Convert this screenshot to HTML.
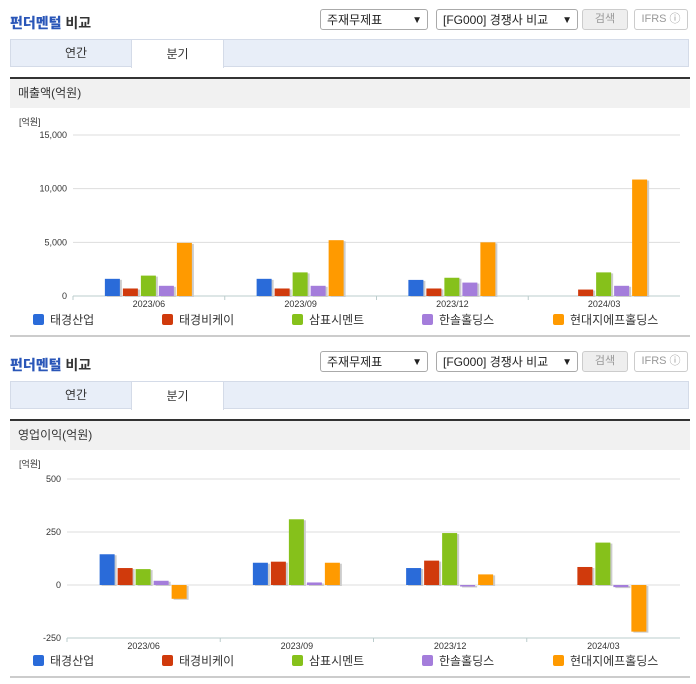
<!DOCTYPE html>
<html><head><meta charset="utf-8"><style>
body{margin:0;width:696px;height:684px;background:#fff;font-family:"Liberation Sans","Noto Sans CJK KR",sans-serif;position:relative;overflow:hidden}
.abs{position:absolute}
.title{font-size:14px;font-weight:bold;color:#333;left:10px}
.title b{color:#2a56b8}
.sel{border:1px solid #aaa;border-radius:3px;height:21px;font-size:12px;color:#222;line-height:21px;padding-left:6px;box-sizing:border-box;background:#fff}
.sel span{position:absolute;right:5px;font-size:10px}
.btn{border:1px solid #ccc;border-radius:3px;height:21px;font-size:11px;color:#999;line-height:19px;text-align:center;box-sizing:border-box}
.tabs{left:10px;width:679px;height:28px;background:#e8eef8;border:1px solid #d4dbe8;box-sizing:border-box}
.tab{top:-1px;height:28px;line-height:28px;font-size:12px;text-align:center;color:#333}
.dark{left:10px;width:680px;height:2px;background:#333}
.sub{left:10px;width:680px;height:29px;background:#f1f1f1;font-size:12px;color:#333;line-height:29px;padding-left:8px;box-sizing:border-box}
.sep{left:10px;width:680px;height:2px;background:#ccc}
</style></head><body>
<div class="abs title" style="top:13px"><b>펀더멘털</b> 비교</div>
<div class="abs sel" style="left:320px;top:9px;width:108px">주재무제표<span>▼</span></div>
<div class="abs sel" style="left:436px;top:9px;width:142px">[FG000] 경쟁사 비교<span>▼</span></div>
<div class="abs btn" style="left:582px;top:9px;width:46px;background:#eee">검색</div>
<div class="abs btn" style="left:634px;top:9px;width:54px">IFRS ⓘ</div>
<div class="abs tabs" style="top:39px">
<div class="abs tab" style="left:20px;width:90px">연간</div>
<div class="abs tab" style="left:120px;width:91px;background:#fff;border:1px solid #d4dbe8;border-bottom:none;height:28px">분기</div>
</div>
<div class="abs dark" style="top:77px"></div>
<div class="abs sub" style="top:79px">매출액(억원)</div>

<div class="abs title" style="top:355px"><b>펀더멘털</b> 비교</div>
<div class="abs sel" style="left:320px;top:351px;width:108px">주재무제표<span>▼</span></div>
<div class="abs sel" style="left:436px;top:351px;width:142px">[FG000] 경쟁사 비교<span>▼</span></div>
<div class="abs btn" style="left:582px;top:351px;width:46px;background:#eee">검색</div>
<div class="abs btn" style="left:634px;top:351px;width:54px">IFRS ⓘ</div>
<div class="abs tabs" style="top:381px">
<div class="abs tab" style="left:20px;width:90px">연간</div>
<div class="abs tab" style="left:120px;width:91px;background:#fff;border:1px solid #d4dbe8;border-bottom:none;height:28px">분기</div>
</div>
<div class="abs dark" style="top:419px"></div>
<div class="abs sub" style="top:421px">영업이익(억원)</div>
<div class="abs sep" style="top:335px"></div>
<div class="abs sep" style="top:676px"></div>

<svg class="abs" style="left:0;top:0" width="696" height="684" id="svg"></svg>
<script>
const categories=["2023/06","2023/09","2023/12","2024/03"];
const seriesNames=["태경산업","태경비케이","삼표시멘트","한솔홀딩스","현대지에프홀딩스"];
const colors=["#2a6bd9","#d03a0c","#86c11b","#a47ddb","#ff9a00"];
const salesTicks=[0,5000,10000,15000];
const salesTaegyeong=[1600,1600,1500,null];
const salesTaegyeongBK=[700,700,700,600];
const salesSampyo=[1900,2200,1700,2200];
const salesHansol=[950,950,1250,950];
const salesHyundai=[4950,5200,5000,10850];
const opTicks=[-250,0,250,500];
const opTaegyeong=[145,105,80,null];
const opTaegyeongBK=[80,110,115,85];
const opSampyo=[75,310,245,200];
const opHansol=[20,12,-5,-10];
const opHyundai=[-65,105,50,-220];
const NS="http://www.w3.org/2000/svg";
const svg=document.getElementById('svg');
function mk(t,a,txt){const e=document.createElementNS(NS,t);for(const k in a)e.setAttribute(k,a[k]);if(txt!=null)e.textContent=txt;svg.appendChild(e);return e;}
function chart(cfg){
 const {x0,x1,yTop,yBot,min,max,ticks,series,key,legendY,unitY}=cfg;
 const y=v=>yBot-(v-min)/(max-min)*(yBot-yTop);
 const cw=(x1-x0)/categories.length;
 const t0=mk('text',{x:19,y:unitY,'font-size':9,fill:'#333'},'[억원]');
 
 
 ticks.forEach(tv=>{
  const g=mk('line',{x1:x0,x2:x1,y1:y(tv),y2:y(tv),stroke:'#ddd','stroke-width':1});
  
  
  const l=mk('text',{x:x0-6,y:y(tv)+3,'font-size':9,fill:'#333','text-anchor':'end'},tv.toLocaleString('en-US'));
  
  
 });
 const ax=mk('line',{x1:x0,x2:x1,y1:yBot,y2:yBot,stroke:'#bcc','stroke-width':1});
 
 
 categories.forEach((c,i)=>{
  const cx=x0+cw*(i+0.5);
  const tk=mk('line',{x1:x0+cw*i,x2:x0+cw*i,y1:yBot,y2:yBot+4,stroke:'#bcc'});
  
  
  const lb=mk('text',{x:cx,y:yBot+11,'font-size':9,fill:'#333','text-anchor':'middle'},c);
  
  
  series.forEach((s,j)=>{
   const v=s[i]; if(v==null) return;
   const bx=cx-44+j*18, top=Math.min(y(v),y(0)), h=Math.max(Math.abs(y(v)-y(0)),1.5);
   const sh=mk('rect',{x:bx+2,y:top+1,width:15,height:h,fill:'#ccc'});
   
   
   const r=mk('rect',{x:bx,y:top,width:15,height:h,fill:colors[j]});
   
   
  });
 });
 const lx=[33,162,292,422,553];
 seriesNames.forEach((n,j)=>{
  const r=mk('rect',{x:lx[j],y:legendY-6,width:11,height:11,rx:2,fill:colors[j]});
  
  
  const t=mk('text',{x:lx[j]+17,y:legendY+4,'font-size':12,fill:'#333'},n);
  
  
 });
}
chart({x0:73,x1:680,yTop:135,yBot:296,min:0,max:15000,ticks:salesTicks,series:[salesTaegyeong,salesTaegyeongBK,salesSampyo,salesHansol,salesHyundai],key:'sales',legendY:320,unitY:125});
chart({x0:67,x1:680,yTop:479,yBot:638,min:-250,max:500,ticks:opTicks,series:[opTaegyeong,opTaegyeongBK,opSampyo,opHansol,opHyundai],key:'op',legendY:661,unitY:467});
</script>
</body></html>
